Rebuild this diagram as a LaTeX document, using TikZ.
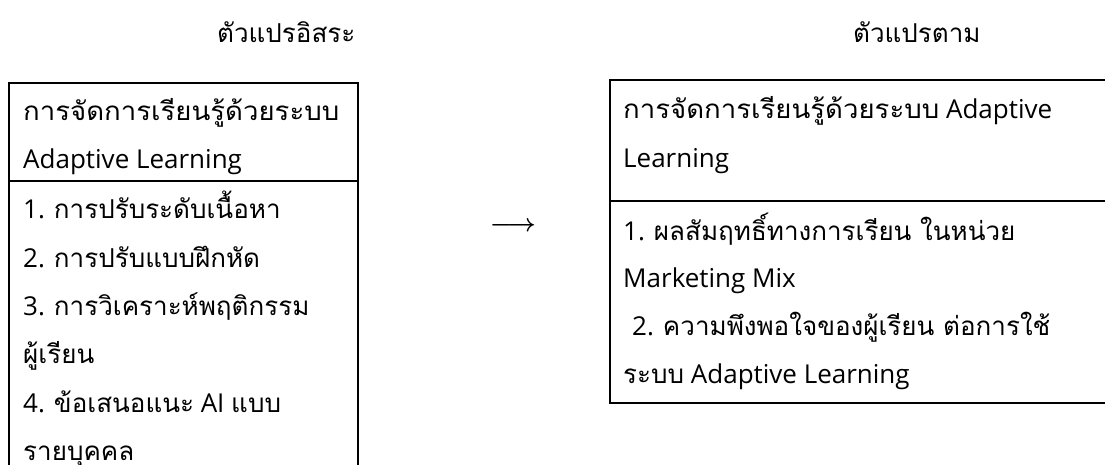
\documentclass[tikz,border=0pt]{standalone}
\usepackage{fontspec}
\setmainfont{Open Sans}
\newfontfamily\thf[Script=Thai]{Loma}
\newcommand\wide[1]{\scalebox{1.06}[1]{#1}}
\tikzset{
  txt/.style={anchor=base west, inner sep=0pt, font=\fontsize{26}{30}\selectfont},
  frame/.style={line width=2pt, line cap=rect}
}
\begin{document}
\begin{tikzpicture}[x=1pt,y=-1pt]
\useasboundingbox (0,0) rectangle (1105,464);
% titles
\node[txt] (tl) at (217,42) {\thf ตัวแปรอิสระ};
\node[txt] (tr) at (853,42) {\thf ตัวแปรตาม};
% left box
\draw[frame] (9,470) -- (9,83) -- (358,83) -- (358,470);
\draw[frame] (9,181) -- (358,181);
\node[txt] (lh1) at (23,120) {\wide{\thf การจัดการเรียนรู้ด้วยระบบ}};
\node[txt] (lh2) at (23,168) {Adaptive Learning};
\node[txt] (l1) at (23,218) {1. \thf การปรับระดับเนื้อหา};
\node[txt] (l2) at (23,267) {2. \thf การปรับแบบฝึกหัด};
\node[txt] (l3) at (23,315) {3. \thf การวิเคราะห์พฤติกรรม};
\node[txt] (l3b) at (23,363) {\thf ผู้เรียน};
\node[txt] (l4) at (23,412) {4. {\thf ข้อเสนอแนะ} AI {\thf แบบ}};
\node[txt] (l4b) at (23,460) {\thf รายบุคคล};
% arrow
\node[inner sep=0pt, font=\fontsize{25}{30}\selectfont\boldmath] (arr) at (513,227) {$\longrightarrow$};
% right box
\draw[frame] (1110,80) -- (610,80) -- (610,403) -- (1110,403);
\draw[frame] (610,201) -- (1110,201);
\node[txt] (rh1) at (623,118) {\wide{\thf การจัดการเรียนรู้ด้วยระบบ} Adaptive};
\node[txt] (rh2) at (623,167) {Learning};
\node[txt] (r1) at (623,240) {1. {\thf ผลสัมฤทธิ์ทางการเรียน ในหน่วย}};
\node[txt] (r1b) at (623,287) {Marketing Mix};
\node[txt] (r2) at (632,335) {2. {\thf ความพึงพอใจของผู้เรียน ต่อการใช้}};
\node[txt] (r2b) at (623,383) {{\thf ระบบ} Adaptive Learning};
\end{tikzpicture}
\end{document}
